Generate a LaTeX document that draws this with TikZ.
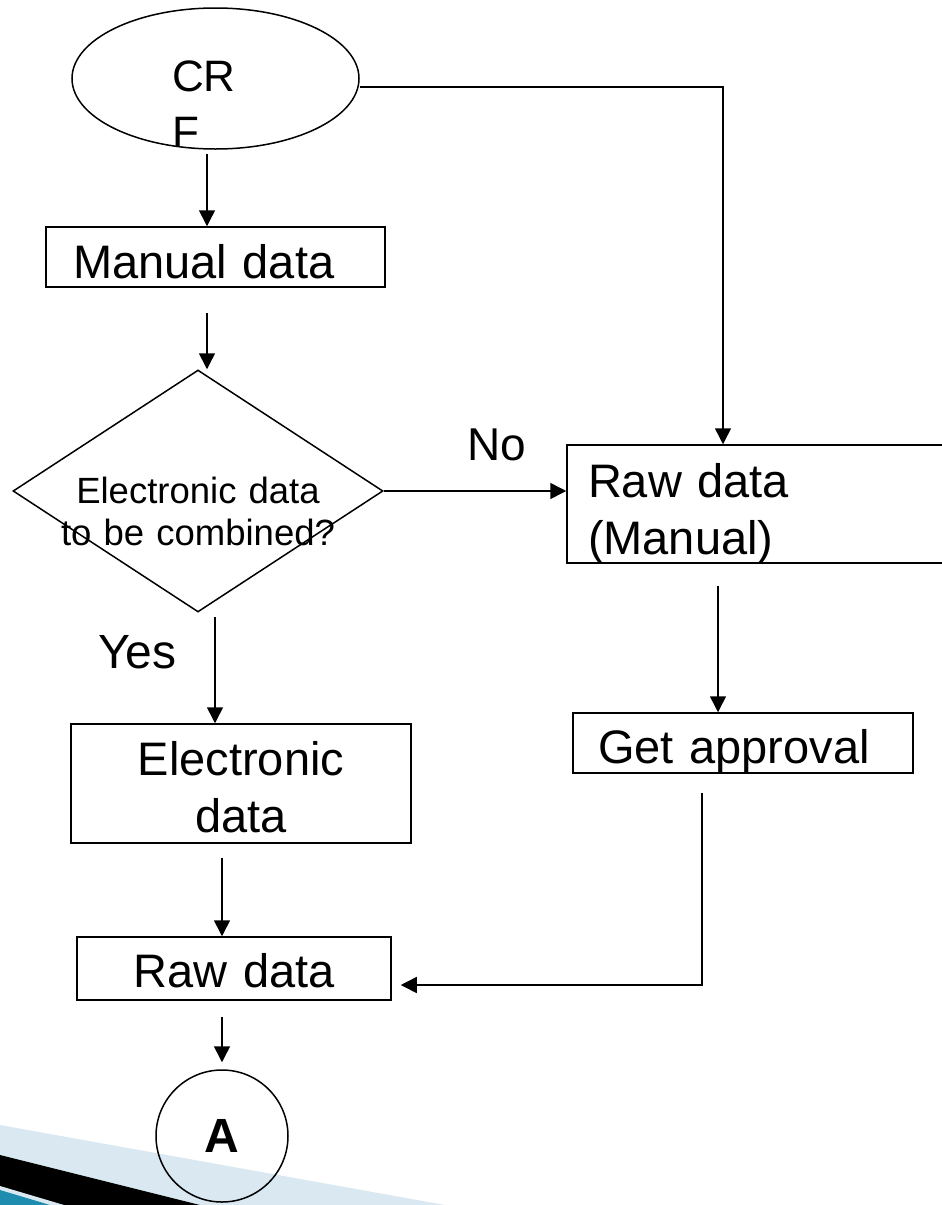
\documentclass[tikz,border=0pt]{standalone}
\usepackage{fontspec}
\setmainfont{Liberation Sans}
\usetikzlibrary{shapes.geometric,arrows.meta,calc}

\definecolor{bandblue}{RGB}{217,232,241}
\definecolor{bandteal}{RGB}{30,140,175}

\tikzset{
  conn/.style={line width=1.5pt, draw=black},
  arr/.style={conn, -{Triangle[length=16pt,width=16pt]}},
  box/.style={draw, line width=1.5pt, rectangle, inner ysep=0pt,
    font=\fontsize{47}{57}\selectfont},
  tag/.style={inner sep=0pt, anchor=base west},
}

\begin{document}
\begin{tikzpicture}[x=1pt,y=-1pt]
\clip (0,0) rectangle (942,1205);

% slide corner bands
\fill[bandblue] (0,1125) -- (445,1205) -- (0,1205) -- cycle;
\fill[black] (0,1155) -- (200,1205) -- (0,1205) -- cycle;
\fill[bandblue] (0,1186) -- (64,1205) -- (0,1205) -- cycle;
\fill[bandteal] (0,1190) -- (50,1205) -- (0,1205) -- cycle;

% shapes
\node[draw, line width=1.5pt, ellipse, inner sep=0pt,
  minimum width=287, minimum height=141,
  text width=87, align=left, text height=25, text depth=0,
  font=\fontsize{44}{56}\selectfont] (crf) at (215.5,78.5) {CR\\F};

\node[box, inner xsep=27, text width=285, align=left,
  text height=51, text depth=9] (manual) at (215.5,257) {Manual data};

\node[draw, line width=1.5pt, diamond, aspect=1.53, inner sep=0pt,
  minimum width=370, minimum height=242,
  text width=290, align=center, text height=24, text depth=0,
  font=\fontsize{36.5}{42}\selectfont] (dec) at (198,491)
  {Electronic data\\to be combined?};

\node[box, inner xsep=21, text width=378, align=left,
  text height=52, text depth=66] (rawm) at (777,504) {Raw data\\(Manual)};

\node[box, inner xsep=25, text width=290, align=left,
  text height=50, text depth=10] (appr) at (743,743) {Get approval};

\node[box, inner xsep=10, text width=320, align=center,
  text height=51, text depth=68] (elec) at (241,783.5) {Electronic\\data};

\node[box, inner xsep=10, text width=294, align=center,
  text height=50, text depth=13] (raw) at (234,968.5) {Raw data};

\node[draw, line width=1.5pt, circle, inner sep=0pt, minimum size=132,
  font=\fontsize{48}{56}\selectfont\bfseries] (A) at (222,1136) {A};

% branch labels
\node[tag, font=\fontsize{46}{56}\selectfont] (nolbl) at (467,460) {No};
\node[tag, font=\fontsize{48}{56}\selectfont] (yeslbl) at (98,668) {Yes};

% connectors
\draw[arr, shorten <=4] ([xshift=-8.5]crf.south) -- ([xshift=-8.5]manual.north);
\draw[arr, shorten <=25] ([xshift=-8.5]manual.south) -- ([xshift=-8.5]manual.south |- dec.north);
\draw[arr] (dec.east) -- (dec.east -| rawm.west);
\draw[arr] ([yshift=-8.5]crf.east) -| ([xshift=-54]rawm.north);
\draw[arr, shorten <=4] ([xshift=-26]elec.north |- dec.south) -- ([xshift=-26]elec.north);
\draw[arr, shorten <=14] ([xshift=-19]elec.south) -- ([xshift=-12]raw.north);
\draw[arr, shorten <=16, shorten >=7] (A.north |- raw.south) -- (A.north);
\draw[arr, shorten <=22] ([xshift=-59]rawm.south) -- ([xshift=-25]appr.north);
\draw[arr, shorten <=19, shorten >=9] ([xshift=-41]appr.south) |- ([yshift=-16.5]raw.east);
\end{tikzpicture}
\end{document}
